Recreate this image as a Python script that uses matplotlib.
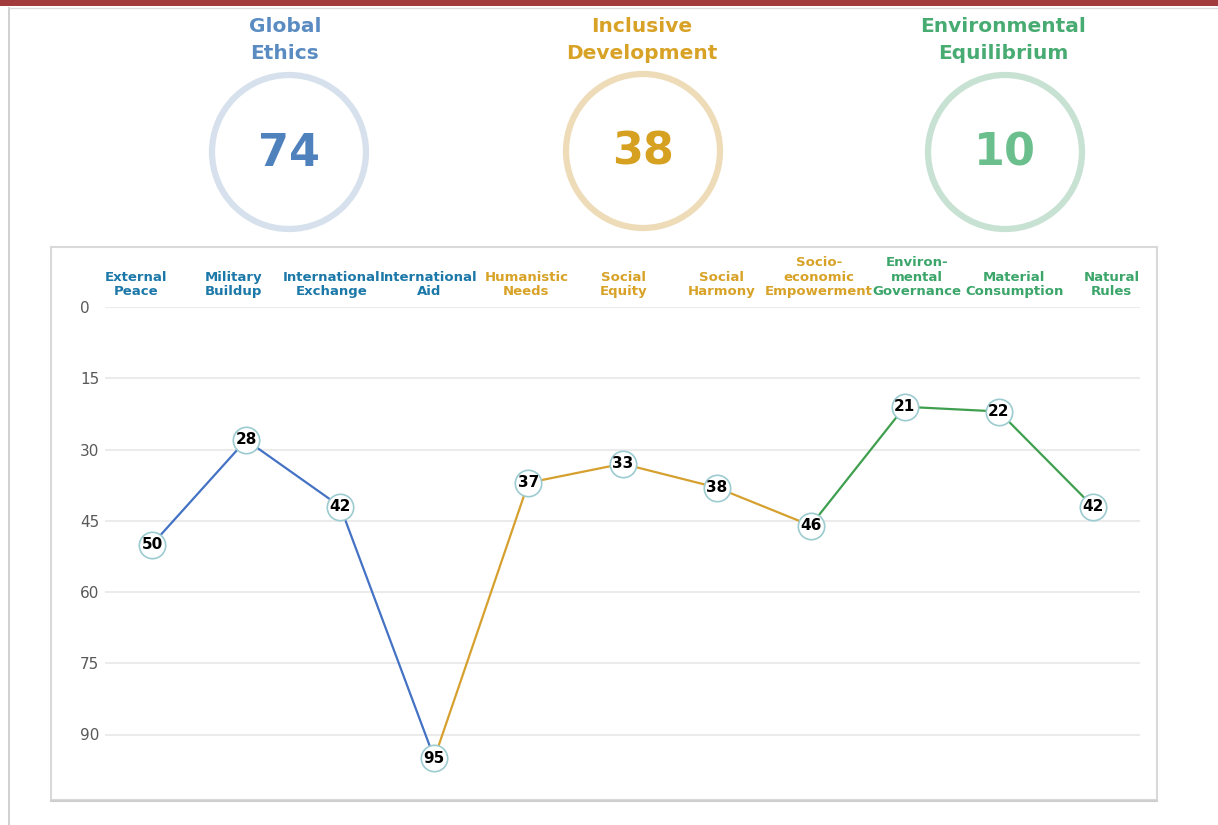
import numpy as np
import matplotlib
matplotlib.use("Agg")
import matplotlib.pyplot as plt
from matplotlib.patches import Circle, Rectangle

# data
categories = ["External\nPeace", "Military\nBuildup", "International\nExchange", "International\nAid",
              "Humanistic\nNeeds", "Social\nEquity", "Social\nHarmony", "Socio-\neconomic\nEmpowerment",
              "Environ-\nmental\nGovernance", "Material\nConsumption", "Natural\nRules"]
scores = [50, 28, 42, 95, 37, 33, 38, 46, 21, 22, 42]
groups = ["ethics"] * 4 + ["inclusive"] * 4 + ["environment"] * 3

group_names = ["Global\nEthics", "Inclusive\nDevelopment", "Environmental\nEquilibrium"]
group_scores = [74, 38, 10]

y_ticks = [0, 15, 30, 45, 60, 75, 90]

# colours
line_col = {"ethics": "#4472c4", "inclusive": "#d6a02e", "environment": "#3f9f4f"}
label_col = {"ethics": "#1b78a8", "inclusive": "#d8a227", "environment": "#3ba56a"}
title_cols = ["#5a8cc2", "#d8a227", "#47ab72"]
num_cols = ["#4f81bd", "#d6a021", "#6bbf8c"]
ring_cols = ["#d6e1ed", "#eedcb9", "#c7e1d3"]

W, H = 1218, 825
fig = plt.figure(figsize=(W / 100, H / 100), dpi=100)

# background overlay in pixel coordinates
bg = fig.add_axes([0, 0, 1, 1])
bg.set_xlim(0, W)
bg.set_ylim(H, 0)
bg.axis("off")
bg.add_patch(Rectangle((0, 0), W, 6, color="#a23b3b", lw=0))
bg.plot([9, 9], [8, H], color="#c8c8c8", lw=1.2)
bg.plot([9, W], [8, 8], color="#dcdcdc", lw=1)
bg.add_patch(Rectangle((51, 247), 1106, 553, facecolor="white", edgecolor="#d9d9d9", lw=1.5))
bg.plot([51, 1157], [801, 801], color="#cfcfcf", lw=1.5)

centers = [(289, 152), (643, 151), (1005, 152)]
title_x = [285, 642, 1003]
for i in range(3):
    cx, cy = centers[i]
    bg.add_patch(Circle((cx, cy), 77, fill=False, edgecolor=ring_cols[i], lw=4.5))
    bg.text(cx, cy + 1, str(group_scores[i]), ha="center", va="center", fontsize=32,
            fontweight="bold", color=num_cols[i])
    bg.text(title_x[i], 40, group_names[i], ha="center", va="center", fontsize=14.5,
            fontweight="bold", color=title_cols[i], linespacing=1.5)

# main line chart
ax = fig.add_axes([105 / W, 1 - 782 / H, (1140 - 105) / W, (782 - 307) / H])
ax.patch.set_alpha(0)
n = len(scores)
x = np.arange(n)
ax.set_xlim(-0.5, n - 0.5)
ax.set_ylim(100, 0)
ax.set_yticks(y_ticks)
ax.set_xticks([])
for s in ax.spines.values():
    s.set_visible(False)
ax.grid(axis="y", color="#ebebeb", lw=1.5)
ax.set_axisbelow(True)
ax.tick_params(axis="y", length=0, labelsize=11, labelcolor="#595959", pad=18)
for lab in ax.get_yticklabels():
    lab.set_horizontalalignment("left")

# segments: each group's line starts from the last point of the previous group
idx = {g: [i for i in range(n) if groups[i] == g] for g in line_col}
prev = None
for g in ["ethics", "inclusive", "environment"]:
    ids = idx[g] if prev is None else [prev] + idx[g]
    ax.plot(x[ids], [scores[i] for i in ids], color=line_col[g], lw=1.6, zorder=2)
    prev = idx[g][-1]

ax.plot(x, scores, ls="none", marker="o", ms=19, mfc="white", mec="#9ccbd0", mew=1.2, zorder=3)
for i in range(n):
    ax.text(x[i], scores[i], str(scores[i]), ha="center", va="center", fontsize=11,
            fontweight="bold", color="black", zorder=4)

# category headers (spread slightly wider than the points, as in the original)
for i in range(n):
    lx = -0.17 + 1.037 * i
    ax.text(lx, -1.8, categories[i], ha="center", va="bottom", fontsize=9.5,
            fontweight="bold", color=label_col[groups[i]], linespacing=1.15, clip_on=False)

fig.savefig("out.png", dpi=100)
